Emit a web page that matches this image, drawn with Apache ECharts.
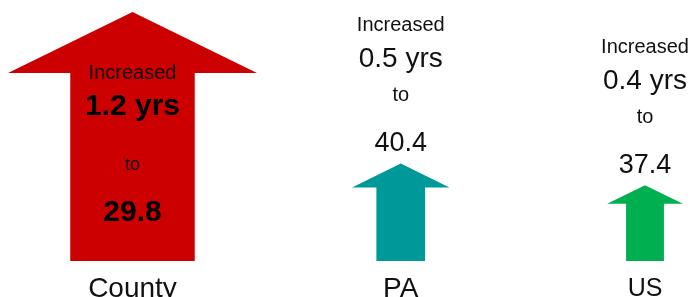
<!DOCTYPE html>
<html>
<head>
<meta charset="utf-8">
<script src="https://cdn.jsdelivr.net/npm/echarts@6/dist/echarts.min.js"></script>
<style>
  html, body { margin: 0; padding: 0; background: #ffffff; }
  #chart { width: 691px; height: 297px; }
</style>
</head>
<body>
<div id="chart"></div>
<script>
// ---- data ----
const categories = ['County', 'PA', 'US'];
const increases = [1.2, 0.5, 0.4];      // years of increase (arrow size)
const ages = [29.8, 40.4, 37.4];        // resulting median age
const arrowColors = ['#CC0000', '#009999', '#00B050'];

// ---- layout (not data) ----
const Y_MIN = 0.05;
const xNudge = [0, 12, 0];
const FONT = '"Liberation Sans", Arial, sans-serif';

const chart = echarts.init(document.getElementById('chart'), null, { renderer: 'canvas' });

function txt(text, x, y, size, weight, color) {
  return {
    type: 'text',
    style: {
      text: text, x: x, y: y,
      fill: color || '#111',
      font: (weight || 'normal') + ' ' + size + 'px ' + FONT,
      align: 'center', verticalAlign: 'middle',
      textAlign: 'center', textVerticalAlign: 'middle'
    }
  };
}

function renderItem(params, api) {
  const i = params.dataIndex;
  const topP = api.coord([api.value(0), api.value(1)]);
  const baseP = api.coord([api.value(0), Y_MIN]);
  const cx = topP[0] + xNudge[i];
  const top = topP[1];
  const base = baseP[1];
  const H = base - top;
  const W = H;
  const headH = 0.245 * H;
  const sw = 0.5 * W;
  const children = [{
    type: 'polygon',
    shape: {
      points: [
        [cx, top],
        [cx + W / 2, top + headH],
        [cx + sw / 2, top + headH],
        [cx + sw / 2, base],
        [cx - sw / 2, base],
        [cx - sw / 2, top + headH],
        [cx - W / 2, top + headH]
      ]
    },
    style: { fill: arrowColors[i] }
  }];
  const incText = increases[i].toFixed(1) + ' yrs';
  const ageText = ages[i].toFixed(1);
  if (i === 0) {
    children.push(txt('Increased', cx, top + 0.248 * H, 20, 'normal', '#111'));
    children.push(txt(incText, cx, top + 0.382 * H, 30, 'bold', '#000'));
    children.push(txt('to', cx, top + 0.615 * H, 18, 'normal', '#111'));
    children.push(txt(ageText, cx, top + 0.808 * H, 30, 'bold', '#000'));
  } else {
    children.push(txt('Increased', cx, top - 138, 20, 'normal', '#111'));
    children.push(txt(incText, cx, top - 104, 28, 'normal', '#111'));
    children.push(txt('to', cx, top - 68, 20, 'normal', '#111'));
    children.push(txt(ageText, cx, top - 20, 27, 'normal', '#111'));
  }
  children.push(txt(categories[i], cx, base + 28, i === 2 ? 25 : 28, 'normal', '#111'));
  return { type: 'group', children: children };
}

chart.setOption({
  animation: false,
  backgroundColor: '#ffffff',
  grid: { left: 132.5, right: 46, top: 12, bottom: 36 },
  xAxis: {
    type: 'category', data: categories, boundaryGap: false, show: false
  },
  yAxis: {
    type: 'value', min: Y_MIN, max: 1.2, show: false
  },
  series: [{
    type: 'custom',
    renderItem: renderItem,
    clip: false,
    data: increases.map((v, i) => [i, v])
  }]
});
</script>
</body>
</html>
